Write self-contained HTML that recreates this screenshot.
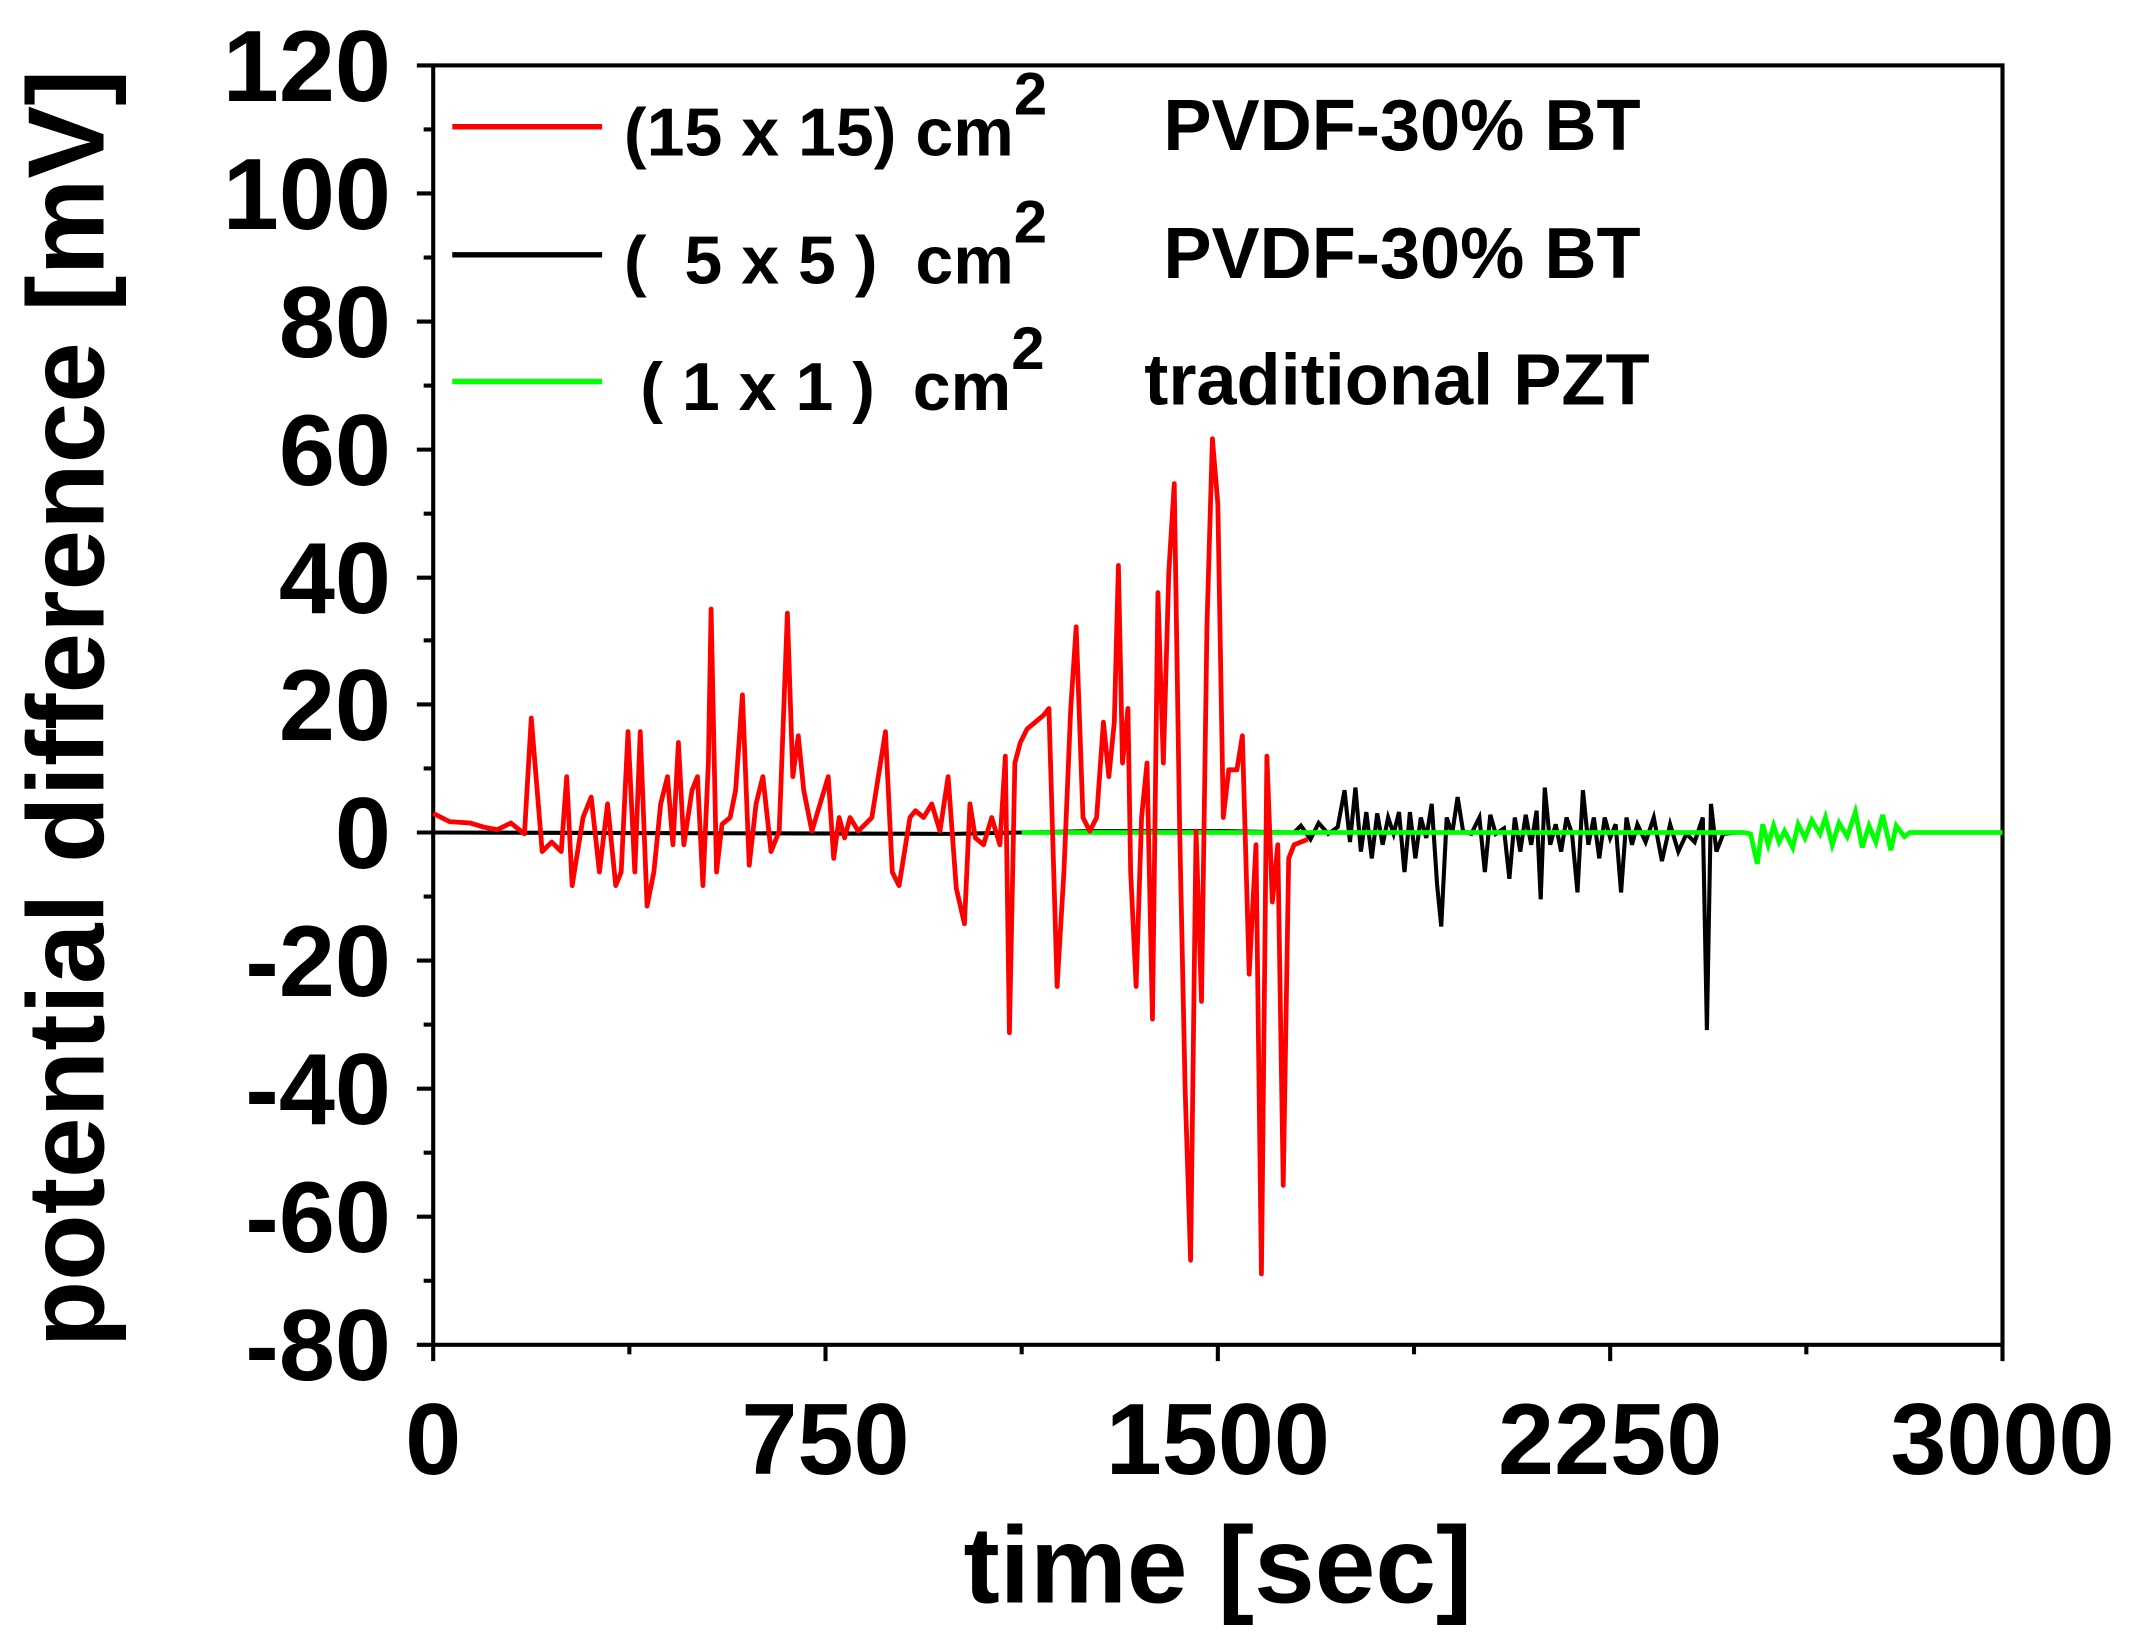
<!DOCTYPE html>
<html><head><meta charset="utf-8"><style>html,body{margin:0;padding:0;background:#fff}svg{display:block}</style></head>
<body>
<svg width="2136" height="1650" viewBox="0 0 1568 1211" preserveAspectRatio="none" xmlns="http://www.w3.org/2000/svg" font-family="Liberation Sans, Arial, sans-serif" font-weight="bold">
<rect x="318" y="48" width="1152" height="939" fill="none" stroke="#000" stroke-width="3"/>
<g stroke="#000" stroke-width="3">
<line x1="306" y1="48" x2="318" y2="48"/><line x1="306" y1="142" x2="318" y2="142"/><line x1="306" y1="236" x2="318" y2="236"/><line x1="306" y1="330" x2="318" y2="330"/><line x1="306" y1="424" x2="318" y2="424"/><line x1="306" y1="517" x2="318" y2="517"/><line x1="306" y1="611" x2="318" y2="611"/><line x1="306" y1="705" x2="318" y2="705"/><line x1="306" y1="799" x2="318" y2="799"/><line x1="306" y1="893" x2="318" y2="893"/><line x1="306" y1="987" x2="318" y2="987"/>
<line x1="311" y1="95" x2="318" y2="95"/><line x1="311" y1="189" x2="318" y2="189"/><line x1="311" y1="283" x2="318" y2="283"/><line x1="311" y1="377" x2="318" y2="377"/><line x1="311" y1="470" x2="318" y2="470"/><line x1="311" y1="564" x2="318" y2="564"/><line x1="311" y1="658" x2="318" y2="658"/><line x1="311" y1="752" x2="318" y2="752"/><line x1="311" y1="846" x2="318" y2="846"/><line x1="311" y1="940" x2="318" y2="940"/>
<line x1="318" y1="987" x2="318" y2="999"/><line x1="606" y1="987" x2="606" y2="999"/><line x1="894" y1="987" x2="894" y2="999"/><line x1="1182" y1="987" x2="1182" y2="999"/><line x1="1470" y1="987" x2="1470" y2="999"/>
<line x1="462" y1="987" x2="462" y2="994"/><line x1="750" y1="987" x2="750" y2="994"/><line x1="1038" y1="987" x2="1038" y2="994"/><line x1="1326" y1="987" x2="1326" y2="994"/>
</g>
<g font-size="74" text-anchor="end">
<text x="287" y="74">120</text><text x="287" y="168">100</text><text x="287" y="262">80</text><text x="287" y="356">60</text><text x="287" y="450">40</text><text x="287" y="543">20</text><text x="287" y="637">0</text><text x="287" y="731">-20</text><text x="287" y="825">-40</text><text x="287" y="919">-60</text><text x="287" y="1013">-80</text>
</g>
<g font-size="74" text-anchor="middle">
<text x="318" y="1082">0</text><text x="606" y="1082">750</text><text x="894" y="1082">1500</text><text x="1182" y="1082">2250</text><text x="1470" y="1082">3000</text>
</g>
<text x="894" y="1176" font-size="80" text-anchor="middle">time [sec]</text>
<text transform="translate(76,520) rotate(-90)" font-size="80" text-anchor="middle">potential difference [mV]</text>
<polyline fill="none" stroke="#000" stroke-width="3" points="318,611 700,612 750,611 800,610 900,610 950,611 955,606 962,616 968,604 975,612 982,607 987,580 991,618 995,578 999,625 1003,596 1007,630 1011,597 1015,620 1019,600 1023,612 1027,596 1031,640 1035,596 1039,630 1043,600 1047,615 1051,590 1055,650 1058,680 1062,600 1066,612 1070,585 1074,610 1080,612 1086,600 1090,640 1094,598 1098,612 1104,608 1108,645 1112,600 1116,625 1120,598 1124,620 1128,595 1131,660 1134,578 1138,620 1142,605 1146,625 1150,600 1154,612 1158,655 1162,580 1166,620 1170,600 1174,630 1178,600 1182,615 1186,605 1190,655 1194,600 1198,620 1202,605 1208,618 1214,600 1220,632 1226,605 1232,625 1238,612 1244,618 1250,600 1253,756 1256,590 1260,625 1265,612 1275,611"/>
<polyline fill="none" stroke="#00ff00" stroke-width="3.5" points="750,611 1280,611 1285,612 1290,634 1294,605 1298,620 1302,606 1306,618 1310,610 1316,622 1320,605 1325,615 1330,602 1336,612 1340,600 1345,620 1350,604 1356,614 1362,596 1367,622 1372,606 1377,618 1382,598 1388,624 1392,606 1398,614 1402,611 1470,611"/>
<polyline fill="none" stroke="#ff0000" stroke-width="3.5" stroke-linejoin="round" points="318,597 330,603 345,604 355,607 365,609 375,604 385,612 390,527 398,625 405,618 412,625 416,570 420,650 428,600 434,585 440,640 446,590 452,650 456,640 461,537 466,640 470,537 475,665 480,640 485,590 490,570 494,620 498,545 502,620 508,580 512,570 516,650 520,560 522,447 526,640 530,605 536,600 540,580 545,510 550,635 555,590 560,570 566,625 572,610 578,450 582,570 586,540 590,580 596,610 602,590 608,570 612,630 616,600 620,615 624,600 630,610 640,600 650,537 655,640 660,650 664,625 668,600 672,595 678,600 684,590 690,610 696,570 702,652 708,678 712,590 716,615 722,620 728,600 734,620 738,555 741,758 745,560 749,545 754,535 760,530 766,525 770,520 776,724 781,640 786,520 790,460 795,600 800,610 805,600 810,530 814,570 818,530 821,415 824,560 828,520 830,640 834,724 838,600 842,560 846,748 850,435 854,560 858,420 862,355 866,610 870,800 874,925 878,610 882,735 886,460 890,322 894,370 898,600 902,565 908,565 912,540 917,715 922,620 926,935 930,555 934,662 938,620 942,870 946,630 950,620 960,616"/>
<line x1="332" y1="93" x2="442" y2="93" stroke="#ff0000" stroke-width="4"/>
<line x1="332" y1="187" x2="442" y2="187" stroke="#000" stroke-width="4"/>
<line x1="332" y1="280" x2="442" y2="280" stroke="#00ff00" stroke-width="4"/>
<g font-size="50">
<text x="458" y="114" xml:space="preserve">(15 x 15) cm<tspan dy="-30" font-size="44">2</tspan></text>
<text x="854" y="110" font-size="53">PVDF-30% BT</text>
<text x="458" y="208" xml:space="preserve">(  5 x 5 )  cm<tspan dy="-30" font-size="44">2</tspan></text>
<text x="854" y="204" font-size="53">PVDF-30% BT</text>
<text x="470" y="301" xml:space="preserve">( 1 x 1 )  cm<tspan dy="-30" font-size="44">2</tspan></text>
<text x="840" y="297" font-size="53">traditional PZT</text>
</g>
</svg>
</body></html>
